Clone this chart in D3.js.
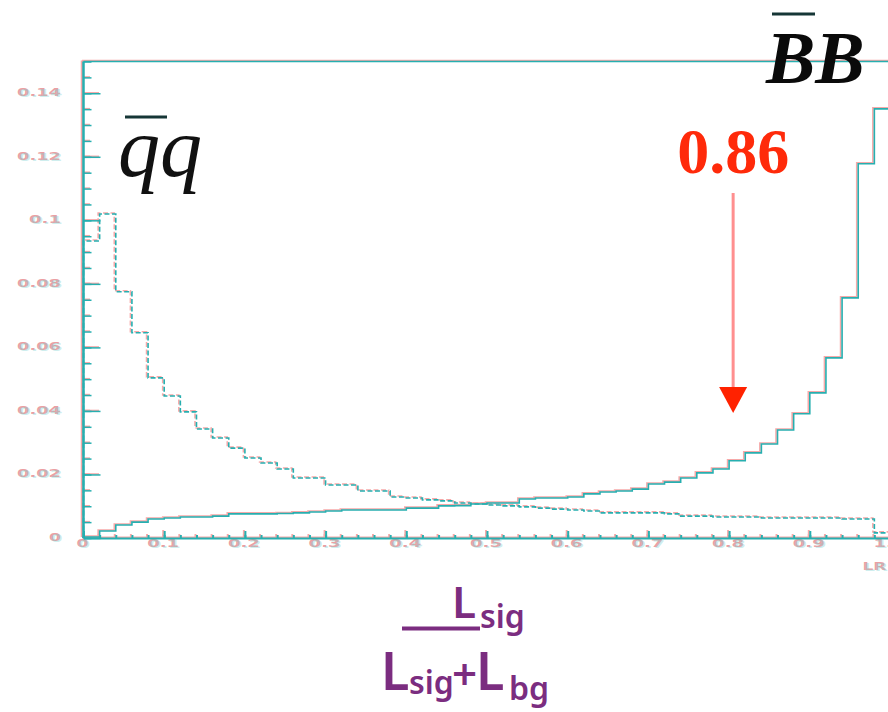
<!DOCTYPE html>
<html>
<head>
<meta charset="utf-8">
<script src="https://cdn.jsdelivr.net/npm/d3@7"></script>
<style>
  body { margin: 0; background: #fff; }
</style>
</head>
<body>
<div id="chart"></div>
<script>
// histogram bins: 50 bins of width 0.02 on the likelihood ratio
var binWidth = 0.02;
var binLow = d3.range(50).map(function (i) { return i * binWidth; });

// signal (B Bbar), solid line
var bbSignal = [
    0.0003, 0.0022, 0.0041, 0.0050, 0.0060, 0.0063, 0.0066, 0.0066, 0.0069, 0.0076,
    0.0076, 0.0076, 0.0077, 0.0079, 0.0082, 0.0085, 0.0088, 0.0088, 0.0088, 0.0088,
    0.0094, 0.0094, 0.0101, 0.0102, 0.0107, 0.0110, 0.0110, 0.0123, 0.0126, 0.0126,
    0.0129, 0.0139, 0.0145, 0.0148, 0.0154, 0.0170, 0.0176, 0.0189, 0.0205, 0.0217,
    0.0243, 0.0268, 0.0296, 0.0340, 0.0391, 0.0457, 0.0567, 0.0756, 0.1178, 0.1351
];

// background (q qbar), dashed line
var qqBackground = [
    0.0935, 0.1020, 0.0775, 0.0646, 0.0504, 0.0447, 0.0397, 0.0343, 0.0315, 0.0283,
    0.0252, 0.0236, 0.0217, 0.0189, 0.0189, 0.0167, 0.0167, 0.0148, 0.0148, 0.0129,
    0.0126, 0.0120, 0.0117, 0.0110, 0.0107, 0.0104, 0.0101, 0.0098, 0.0094, 0.0091,
    0.0088, 0.0085, 0.0079, 0.0079, 0.0079, 0.0079, 0.0076, 0.0069, 0.0069, 0.0066,
    0.0066, 0.0066, 0.0063, 0.0063, 0.0063, 0.0063, 0.0063, 0.0060, 0.0060, 0.0016
];

var yTicks = [0, 0.02, 0.04, 0.06, 0.08, 0.10, 0.12, 0.14];
var yTickLabels = ["0", "0.02", "0.04", "0.06", "0.08", "0.1", "0.12", "0.14"];
var xTicks = [0, 0.1, 0.2, 0.3, 0.4, 0.5, 0.6, 0.7, 0.8, 0.9, 1.0];
var xTickLabels = ["0", "0.1", "0.2", "0.3", "0.4", "0.5", "0.6", "0.7", "0.8", "0.9", "1.0"];

var cutValue = 0.805;       // where the arrow points
var cutLabel = "0.86";

var W = 888, H = 712;

var svg = d3.select("#chart").append("svg")
    .attr("width", W)
    .attr("height", H);

svg.append("rect").attr("width", W).attr("height", H).attr("fill", "#fff");

var x = d3.scaleLinear().domain([0, 1]).range([83.5, 890.5]);
var y = d3.scaleLinear().domain([0, 0.15]).range([538, 61.5]);

var yMinor = d3.range(0, 0.1501, 0.005);
var xMinor = d3.range(0, 1.001, 0.02);

// the scanned labels are short and very wide
function labelWidth(s) {
    var w = 0;
    for (var i = 0; i < s.length; i++) w += (s[i] === ".") ? 8 : 12;
    return w;
}

function styleLabels(sel, fill, opacity) {
    sel.attr("fill", fill)
        .attr("fill-opacity", opacity)
        .style("font-family", "DejaVu Sans")
        .style("font-weight", "bold")
        .style("font-size", "10.5px")
        .attr("textLength", function () { return labelWidth(this.textContent); })
        .attr("lengthAdjust", "spacingAndGlyphs");
}

var stepLine = d3.line()
    .x(function (d) { return x(d[0]); })
    .y(function (d) { return y(d[1]); })
    .curve(d3.curveStepAfter);

function histPoints(vals) {
    var pts = [[0, 0]];
    vals.forEach(function (v, i) { pts.push([binLow[i], v]); });
    pts.push([1, vals[vals.length - 1]]);
    pts.push([1, 0]);
    return pts;
}

/*  one colour layer of the scan (pink fringe + teal)  */
function drawLayer(color, dx, dy, textColor, textOpacity) {
    var g = svg.append("g").attr("transform", "translate(" + dx + "," + dy + ")");

    // frame: top and right
    g.append("path")
        .attr("d", "M" + x(0) + "," + y(0.15) + "H" + x(1) + "V" + y(0))
        .attr("fill", "none")
        .attr("stroke", color)
        .attr("stroke-width", 1.5);

    // y axis, ticks pointing inside
    var yAx = g.append("g")
        .attr("transform", "translate(" + x(0) + ",0)")
        .call(d3.axisLeft(y).tickValues(yTicks)
            .tickFormat(function (d, i) { return yTickLabels[i]; })
            .tickSizeInner(-17).tickSizeOuter(0).tickPadding(21));
    yAx.select(".domain").attr("d", "M0," + y(0) + "V" + y(0.15))
        .attr("stroke", color).attr("stroke-width", 2.5);
    yAx.selectAll(".tick line").attr("stroke", color).attr("stroke-width", 1.5);
    styleLabels(yAx.selectAll(".tick text"), textColor, textOpacity);

    var yMin = g.append("g")
        .attr("transform", "translate(" + x(0) + ",0)")
        .call(d3.axisLeft(y).tickValues(yMinor).tickFormat("")
            .tickSizeInner(-8).tickSizeOuter(0));
    yMin.select(".domain").remove();
    yMin.selectAll(".tick line").attr("stroke", color).attr("stroke-width", 1.5);

    // x axis, ticks pointing up
    var xAx = g.append("g")
        .attr("transform", "translate(0," + y(0) + ")")
        .call(d3.axisBottom(x).tickValues(xTicks)
            .tickFormat(function (d, i) { return xTickLabels[i]; })
            .tickSizeInner(-7).tickSizeOuter(0).tickPadding(3));
    xAx.select(".domain").attr("stroke", color).attr("stroke-width", 2);
    xAx.selectAll(".tick line").attr("stroke", color).attr("stroke-width", 2);
    styleLabels(xAx.selectAll(".tick text"), textColor, textOpacity);

    var xMin = g.append("g")
        .attr("transform", "translate(0," + y(0) + ")")
        .call(d3.axisBottom(x).tickValues(xMinor).tickFormat("")
            .tickSizeInner(-3).tickSizeOuter(0));
    xMin.select(".domain").remove();
    xMin.selectAll(".tick line").attr("stroke", color).attr("stroke-width", 2);

    // axis title at the end of the x axis
    var t = g.append("text")
        .attr("x", 864).attr("y", 571)
        .text("LR");
    styleLabels(t, textColor, textOpacity);

    // histograms
    g.append("path")
        .attr("d", stepLine(histPoints(qqBackground)))
        .attr("fill", "none")
        .attr("stroke", color)
        .attr("stroke-width", 1.6)
        .attr("stroke-dasharray", "5,2.5");

    g.append("path")
        .attr("d", stepLine(histPoints(bbSignal)))
        .attr("fill", "none")
        .attr("stroke", color)
        .attr("stroke-width", 1.6);
}

drawLayer("#f6a9a9", -1.5, -1, "#eb9fa3", 1);
drawLayer("#27afb0", 0, 0, "#7fd3d3", 0.4);

/*  process labels  */
svg.append("text")
    .attr("x", 118).attr("y", 176)
    .style("font-family", "Liberation Serif")
    .style("font-style", "italic")
    .style("font-size", "84px")
    .attr("fill", "#111")
    .text("qq");
svg.append("rect")
    .attr("x", 125).attr("y", 115.5).attr("width", 42).attr("height", 3)
    .attr("fill", "#163636");

svg.append("text")
    .attr("x", 766).attr("y", 83)
    .style("font-family", "Liberation Serif")
    .style("font-style", "italic")
    .style("font-weight", "bold")
    .style("font-size", "74px")
    .attr("fill", "#0a0a0a")
    .text("BB");
svg.append("rect")
    .attr("x", 772).attr("y", 12.5).attr("width", 43).attr("height", 3)
    .attr("fill", "#163636");

/*  cut annotation  */
svg.append("text")
    .attr("x", x(cutValue)).attr("y", 173)
    .attr("text-anchor", "middle")
    .style("font-family", "Liberation Serif")
    .style("font-weight", "bold")
    .style("font-size", "64px")
    .attr("fill", "#ff2a0a")
    .text(cutLabel);

svg.append("line")
    .attr("x1", x(cutValue)).attr("x2", x(cutValue))
    .attr("y1", 193).attr("y2", 392)
    .attr("stroke", "#ff8f8f")
    .attr("stroke-width", 3);

svg.append("path")
    .attr("d", "M" + (x(cutValue) - 14) + ",387L" + (x(cutValue) + 14) + ",387L" + x(cutValue) + ",413Z")
    .attr("fill", "#ff2200");

/*  formula below the plot  */
var purple = "#7b2d80";
var f = svg.append("g")
    .style("font-family", "Noto Sans")
    .style("font-weight", "600")
    .attr("fill", purple);

f.append("text").attr("x", 452).attr("y", 618).style("font-size", "44px").text("L");
f.append("text").attr("x", 480).attr("y", 628).style("font-size", "32px").text("sig");
f.append("rect").attr("x", 402).attr("y", 626.5).attr("width", 78).attr("height", 4);

f.append("text").attr("x", 381).attr("y", 690).style("font-size", "52px").text("L");
f.append("text").attr("x", 409).attr("y", 694).style("font-size", "32px").text("sig");
f.append("text").attr("x", 452).attr("y", 690).style("font-size", "44px").text("+");
f.append("text").attr("x", 476).attr("y", 690).style("font-size", "52px").text("L");
f.append("text").attr("x", 509).attr("y", 700).style("font-size", "32px").text("bg");
</script>
</body>
</html>
